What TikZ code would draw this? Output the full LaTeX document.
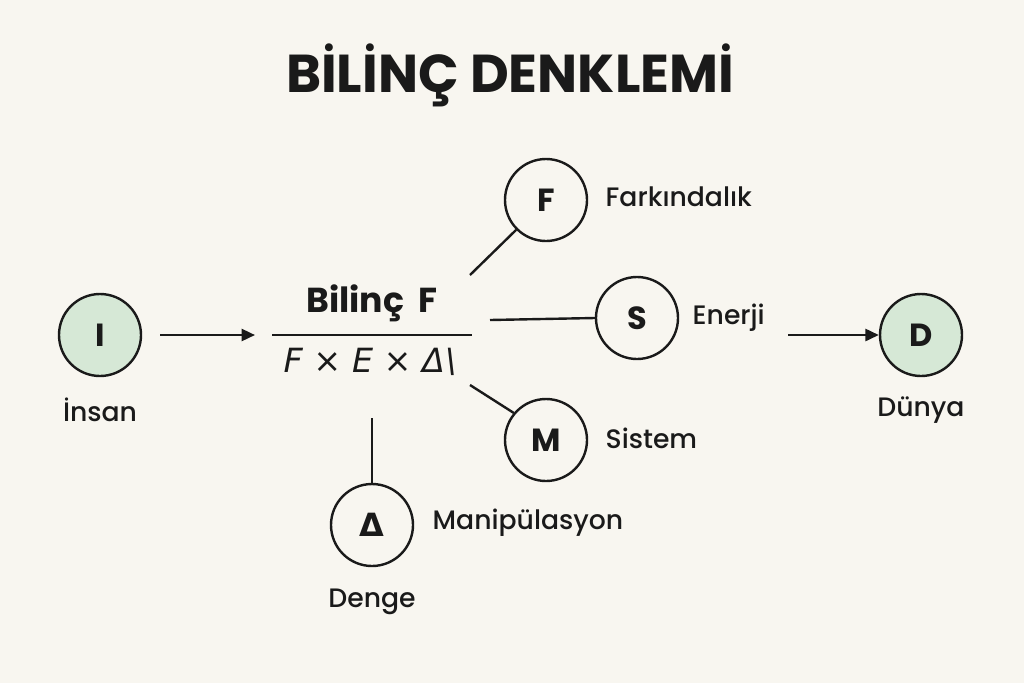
\documentclass[tikz,border=0pt]{standalone}
\usepackage{fontspec}
\setmainfont{Poppins}
\newfontfamily\dvs{DejaVu Sans}
\usetikzlibrary{arrows.meta}
\definecolor{bg}{HTML}{F8F6F0}
\definecolor{gfill}{HTML}{D6E8D6}
\definecolor{ink}{HTML}{1A1A1A}
\begin{document}
\begin{tikzpicture}[x=0.75pt,y=-0.75pt,
  circ/.style={circle,draw=ink,line width=1.8pt,minimum size=82pt*0.75,inner sep=0pt,font=\fontsize{24}{24}\selectfont\bfseries,text=ink},
  lab/.style={font=\fontsize{20}{20}\selectfont\fontspec{Poppins Medium},text=ink},
  ln/.style={draw=ink,line width=1.8pt},
  arr/.style={ln,-{Triangle[length=10pt,width=9pt]}}]
\fill[bg] (0,0) rectangle (1024,683);
\useasboundingbox (0,0) rectangle (1024,683);
\node[font=\fontsize{40}{40}\selectfont\bfseries,text=ink] (title) at (510,75) {BİLİNÇ DENKLEMİ};
\node[circ,fill=gfill] (I) at (100,335) {I};
\node[lab] (Il) at (100,410) {İnsan};
\node[circ,fill=gfill] (D) at (921,335) {D};
\node[lab] (Dl) at (921,410) {Dünya};
\node[circ] (F) at (546,200) {F};
\node[lab,anchor=west] (Fl) at (601,197) {Farkındalık};
\node[circ] (S) at (637,318) {S};
\node[lab,anchor=west] (Sl) at (688,318) {Enerji};
\node[circ] (M) at (546,440) {M};
\node[lab,anchor=west] (Ml) at (601,438) {Sistem};
\node[circ] (T) at (372,525) {\dvs Δ};
\node[lab,anchor=west] (Tl) at (428,523) {Manipülasyon};
\node[lab] (Tb) at (372,602) {Denge};
\node[font=\fontsize{26}{26}\selectfont\bfseries,text=ink] (num) at (372,303) {Bilinç\ \ F};
\node[font=\fontsize{25}{25}\selectfont\itshape,text=ink] (den) at (370,362) {\dvs\itshape F × E × Δ\textbackslash};
\coordinate (fl) at (272,335); \coordinate (fr) at (472,335);
\draw[ln] (fl) -- (fr);
\coordinate (a1) at (160,335); \coordinate (a2) at (255,335);
\draw[arr] (a1) -- (a2);
\coordinate (b1) at (788,335);
\draw[arr] (b1) -- (D.west);
\coordinate (s1) at (490,320);
\draw[ln] (s1) -- (S.west);
\coordinate (f1) at (470,275);
\draw[ln] (f1) -- (F.225);
\coordinate (m1) at (470,385);
\draw[ln] (m1) -- (M.140);
\coordinate (t1) at (372,418);
\draw[ln] (t1) -- (T.north);
\end{tikzpicture}
\end{document}
